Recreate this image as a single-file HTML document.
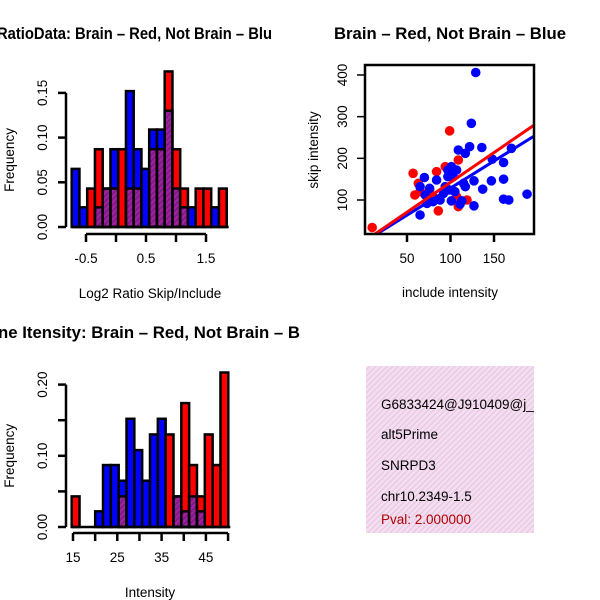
<!DOCTYPE html>
<html><head><meta charset="utf-8">
<style>
html,body{margin:0;padding:0;background:#fff;}
svg{display:block;font-family:"Liberation Sans",sans-serif;}
</style></head>
<body>
<svg id="chart" width="600" height="600" viewBox="0 0 600 600" xmlns="http://www.w3.org/2000/svg">
<defs>
<pattern id="hatch" patternUnits="userSpaceOnUse" width="4" height="4" patternTransform="rotate(45)">
<rect width="4" height="4" fill="#a020a0"/><rect width="1.5" height="4" fill="#7a1a80"/>
</pattern>
<pattern id="pink" patternUnits="userSpaceOnUse" width="4" height="4" patternTransform="rotate(45)">
<rect width="4" height="4" fill="#f8dcf4"/><rect width="1.4" height="4" fill="#e2cede"/>
</pattern>
<clipPath id="scClip"><rect x="365" y="65" width="169" height="169"/></clipPath>
<clipPath id="boxClip"><rect x="366" y="366" width="168" height="167"/></clipPath>
</defs>
<g id="h1"></g>
<g id="sc"></g>
<g id="h2"></g>
<g>
<rect x="366" y="366" width="168" height="167" fill="url(#pink)"/>
<g clip-path="url(#boxClip)" font-size="13.5">
<text x="381" y="409">G6833424@J910409@j_</text>
<text x="381" y="439">alt5Prime</text>
<text x="381" y="470">SNRPD3</text>
<text x="381" y="501">chr10.2349-1.5</text>
<text x="381" y="524" fill="#b00000">Pval: 2.000000</text>
</g>
</g>
</svg>
<script>
// Histogram 1 (Log2 ratio) data
const h1Blue = [0.065,0.022,0,0.022,0.043,0.087,0,0.152,0.087,0.065,0.109,0.109,0.13,0.043,0.022,0.022,0,0,0.022,0];
const h1Red  = [0,0,0.043,0.087,0.043,0.043,0.087,0.043,0.043,0,0.087,0.087,0.174,0.087,0.043,0,0.043,0.043,0,0.043];
const h1YTicks = [0,0.05,0.10,0.15];
const h1YLabels = ["0.00","0.05","0.10","0.15"];
const h1XTicks = [-0.5,0,0.5,1,1.5];
const h1XLabels = ["-0.5","","0.5","","1.5"];
// Histogram 2 (Intensity) data
const h2Blue = [0,0,0,0.022,0.087,0.087,0.065,0.152,0.108,0.065,0.13,0.152,0,0.043,0.022,0.043,0.022,0,0,0];
const h2Red  = [0.043,0,0,0,0,0,0.043,0,0,0,0,0,0.13,0.043,0.174,0.087,0.043,0.13,0.087,0.217];
const h2YTicks = [0,0.05,0.10,0.15,0.20];
const h2YLabels = ["0.00","","0.10","","0.20"];
const h2XTicks = [15,20,25,30,35,40,45,50];
const h2XLabels = ["15","","25","","35","","45",""];
// Scatter data
const scRedX = [10,57,59,63,84,86,99,94,109,109,119,107,76,80,73,65];
const scRedY = [34,164,112,140,168,74,266,180,196,84,100,108,124,108,116,120];
const scBlueX = [129,124,109,117,122,136,148,161,170,70,84,65,76,71,65,88,97,101,107,94,99,105,115,117,127,137,147,161,161,167,188,101,111,127,92,80,73,97,103,113];
const scBlueY = [406,284,220,212,228,226,198,190,224,154,148,132,128,112,64,100,172,180,172,132,124,120,140,132,146,126,146,150,102,100,114,98,90,86,116,96,92,156,156,98];
const redFit = [-0.6,1.43];
const blueFit = [-1.5,1.30];
const scXTicks = [50,100,150];
const scYTicks = [100,200,300,400];

const NS="http://www.w3.org/2000/svg";
const FS=13.5;
function mk(parent,tag,attrs,text){const e=document.createElementNS(NS,tag);for(const k in attrs)e.setAttribute(k,attrs[k]);if(text!==undefined)e.textContent=text;parent.appendChild(e);return e;}

function hist(g,blue,red,x0,x1,yBase,yScale,yTicks,yLabels,xTickPos,xLabels,title,titleX,titleLen,titleY,xlab,xlabY,xAxisY){
  const n=blue.length, w=(x1-x0)/n;
  const y=v=>yBase-v*yScale;
  for(let i=0;i<n;i++){
    const b=blue[i], r=red[i], hi=Math.max(b,r), lo=Math.min(b,r);
    if(hi<=0) { continue; }
    const bx=x0+i*w;
    const top=mk(g,'rect',{x:bx,y:y(hi),width:w,height:y(0)-y(hi),fill:(b>=r?'#0000ff':'#ff0000')});
    
    
    if(lo>0){
      const ov=mk(g,'rect',{x:bx,y:y(lo),width:w,height:y(0)-y(lo),fill:'url(#hatch)'});
      
      
      mk(g,'rect',{x:bx,y:y(lo),width:w,height:y(0)-y(lo),fill:'none',stroke:'#000','stroke-width':2.5});
    }
    mk(g,'rect',{x:bx,y:y(hi),width:w,height:y(0)-y(hi),fill:'none',stroke:'#000','stroke-width':2.5});
  }
  mk(g,'line',{x1:x0,y1:y(0),x2:x1+2,y2:y(0),stroke:'#000','stroke-width':2.5});
  const ya=mk(g,'g',{});
  
  
  mk(ya,'line',{x1:66,y1:y(yTicks[0]),x2:66,y2:y(yTicks[yTicks.length-1]),stroke:'#000','stroke-width':2.5});
  yTicks.forEach((t,i)=>{
    mk(ya,'line',{x1:58,y1:y(t),x2:66,y2:y(t),stroke:'#000','stroke-width':2.5});
    if(yLabels[i]) mk(ya,'text',{x:0,y:0,transform:`translate(47,${y(t)}) rotate(-90)`,'text-anchor':'middle','font-size':FS},yLabels[i]);
  });
  const xa=mk(g,'g',{});
  
  
  mk(xa,'line',{x1:xTickPos[0],y1:xAxisY,x2:xTickPos[xTickPos.length-1],y2:xAxisY,stroke:'#000','stroke-width':2.5});
  xTickPos.forEach((p,i)=>{
    mk(xa,'line',{x1:p,y1:xAxisY,x2:p,y2:xAxisY+8,stroke:'#000','stroke-width':2.5});
    if(xLabels[i]) mk(xa,'text',{x:p,y:xAxisY+29,'text-anchor':'middle','font-size':FS},xLabels[i]);
  });
  const yl=mk(g,'text',{x:0,y:0,transform:`translate(14,${(y(0)+y(yTicks[yTicks.length-1]))/2}) rotate(-90)`,'text-anchor':'middle','font-size':FS},'Frequency');
  
  
  const xl=mk(g,'text',{x:150,y:xlabY,'text-anchor':'middle','font-size':FS},xlab);
  
  
  const tt=mk(g,'text',{x:titleX,y:titleY,textLength:titleLen,lengthAdjust:'spacingAndGlyphs','font-size':16.5,'font-weight':'bold'},title);
  
  
}

const h1x=v=>146+(v-0.5)*60;
hist(document.getElementById('h1'),h1Blue,h1Red,71.7,226.7,227,894,h1YTicks,h1YLabels,h1XTicks.map(h1x),h1XLabels,
  'RatioData: Brain \u2013 Red, Not Brain \u2013 Blu',-3,275,39,'Log2 Ratio Skip/Include',298,234);
const h2x=v=>73+(v-15)*4.43;
hist(document.getElementById('h2'),h2Blue,h2Red,71.7,228.3,527,712,h2YTicks,h2YLabels,h2XTicks.map(h2x),h2XLabels,
  'ne Itensity: Brain \u2013 Red, Not Brain \u2013 B',-2,302,338,'Intensity',597,533);

(function(){
  const g=document.getElementById('sc');
  const sx=v=>407+(v-50)*0.87;
  const sy=v=>200-(v-100)*0.4167;
  const pts=mk(g,'g',{'clip-path':'url(#scClip)'});
  scRedX.forEach((xv,i)=>{
    const c=mk(pts,'circle',{cx:sx(xv),cy:sy(scRedY[i]),r:4.8,fill:'#ff0000'});
    
    
  });
  scBlueX.forEach((xv,i)=>{
    const c=mk(pts,'circle',{cx:sx(xv),cy:sy(scBlueY[i]),r:4.8,fill:'#0000ff'});
    
    
  });
  const xa=-50, xb=250;
  const bl=mk(pts,'line',{x1:sx(xa),y1:sy(blueFit[0]+blueFit[1]*xa),x2:sx(xb),y2:sy(blueFit[0]+blueFit[1]*xb),stroke:'#0000ff','stroke-width':3});
  
  
  const rl=mk(pts,'line',{x1:sx(xa),y1:sy(redFit[0]+redFit[1]*xa),x2:sx(xb),y2:sy(redFit[0]+redFit[1]*xb),stroke:'#ff0000','stroke-width':3});
  
  
  const box=mk(g,'rect',{x:365,y:65,width:169,height:169,fill:'none',stroke:'#000','stroke-width':2.5});
  
  
  scXTicks.forEach(t=>{
    mk(g,'line',{x1:sx(t),y1:234,x2:sx(t),y2:242,stroke:'#000','stroke-width':2.5});
    mk(g,'text',{x:sx(t),y:263,'text-anchor':'middle','font-size':FS},String(t));
  });
  scYTicks.forEach(t=>{
    mk(g,'line',{x1:357,y1:sy(t),x2:365,y2:sy(t),stroke:'#000','stroke-width':1.5});
    mk(g,'text',{x:0,y:0,transform:`translate(347,${sy(t)}) rotate(-90)`,'text-anchor':'middle','font-size':FS},String(t));
  });
  const xl=mk(g,'text',{x:450,y:297,'text-anchor':'middle','font-size':FS},'include intensity');
  
  
  const yl=mk(g,'text',{x:0,y:0,transform:'translate(318,150) rotate(-90)','text-anchor':'middle','font-size':FS},'skip intensity');
  
  
  const tt=mk(g,'text',{x:334,y:39,textLength:232,lengthAdjust:'spacingAndGlyphs','font-size':16.5,'font-weight':'bold'},'Brain \u2013 Red, Not Brain \u2013 Blue');
  
  
})();
</script>
</body></html>
